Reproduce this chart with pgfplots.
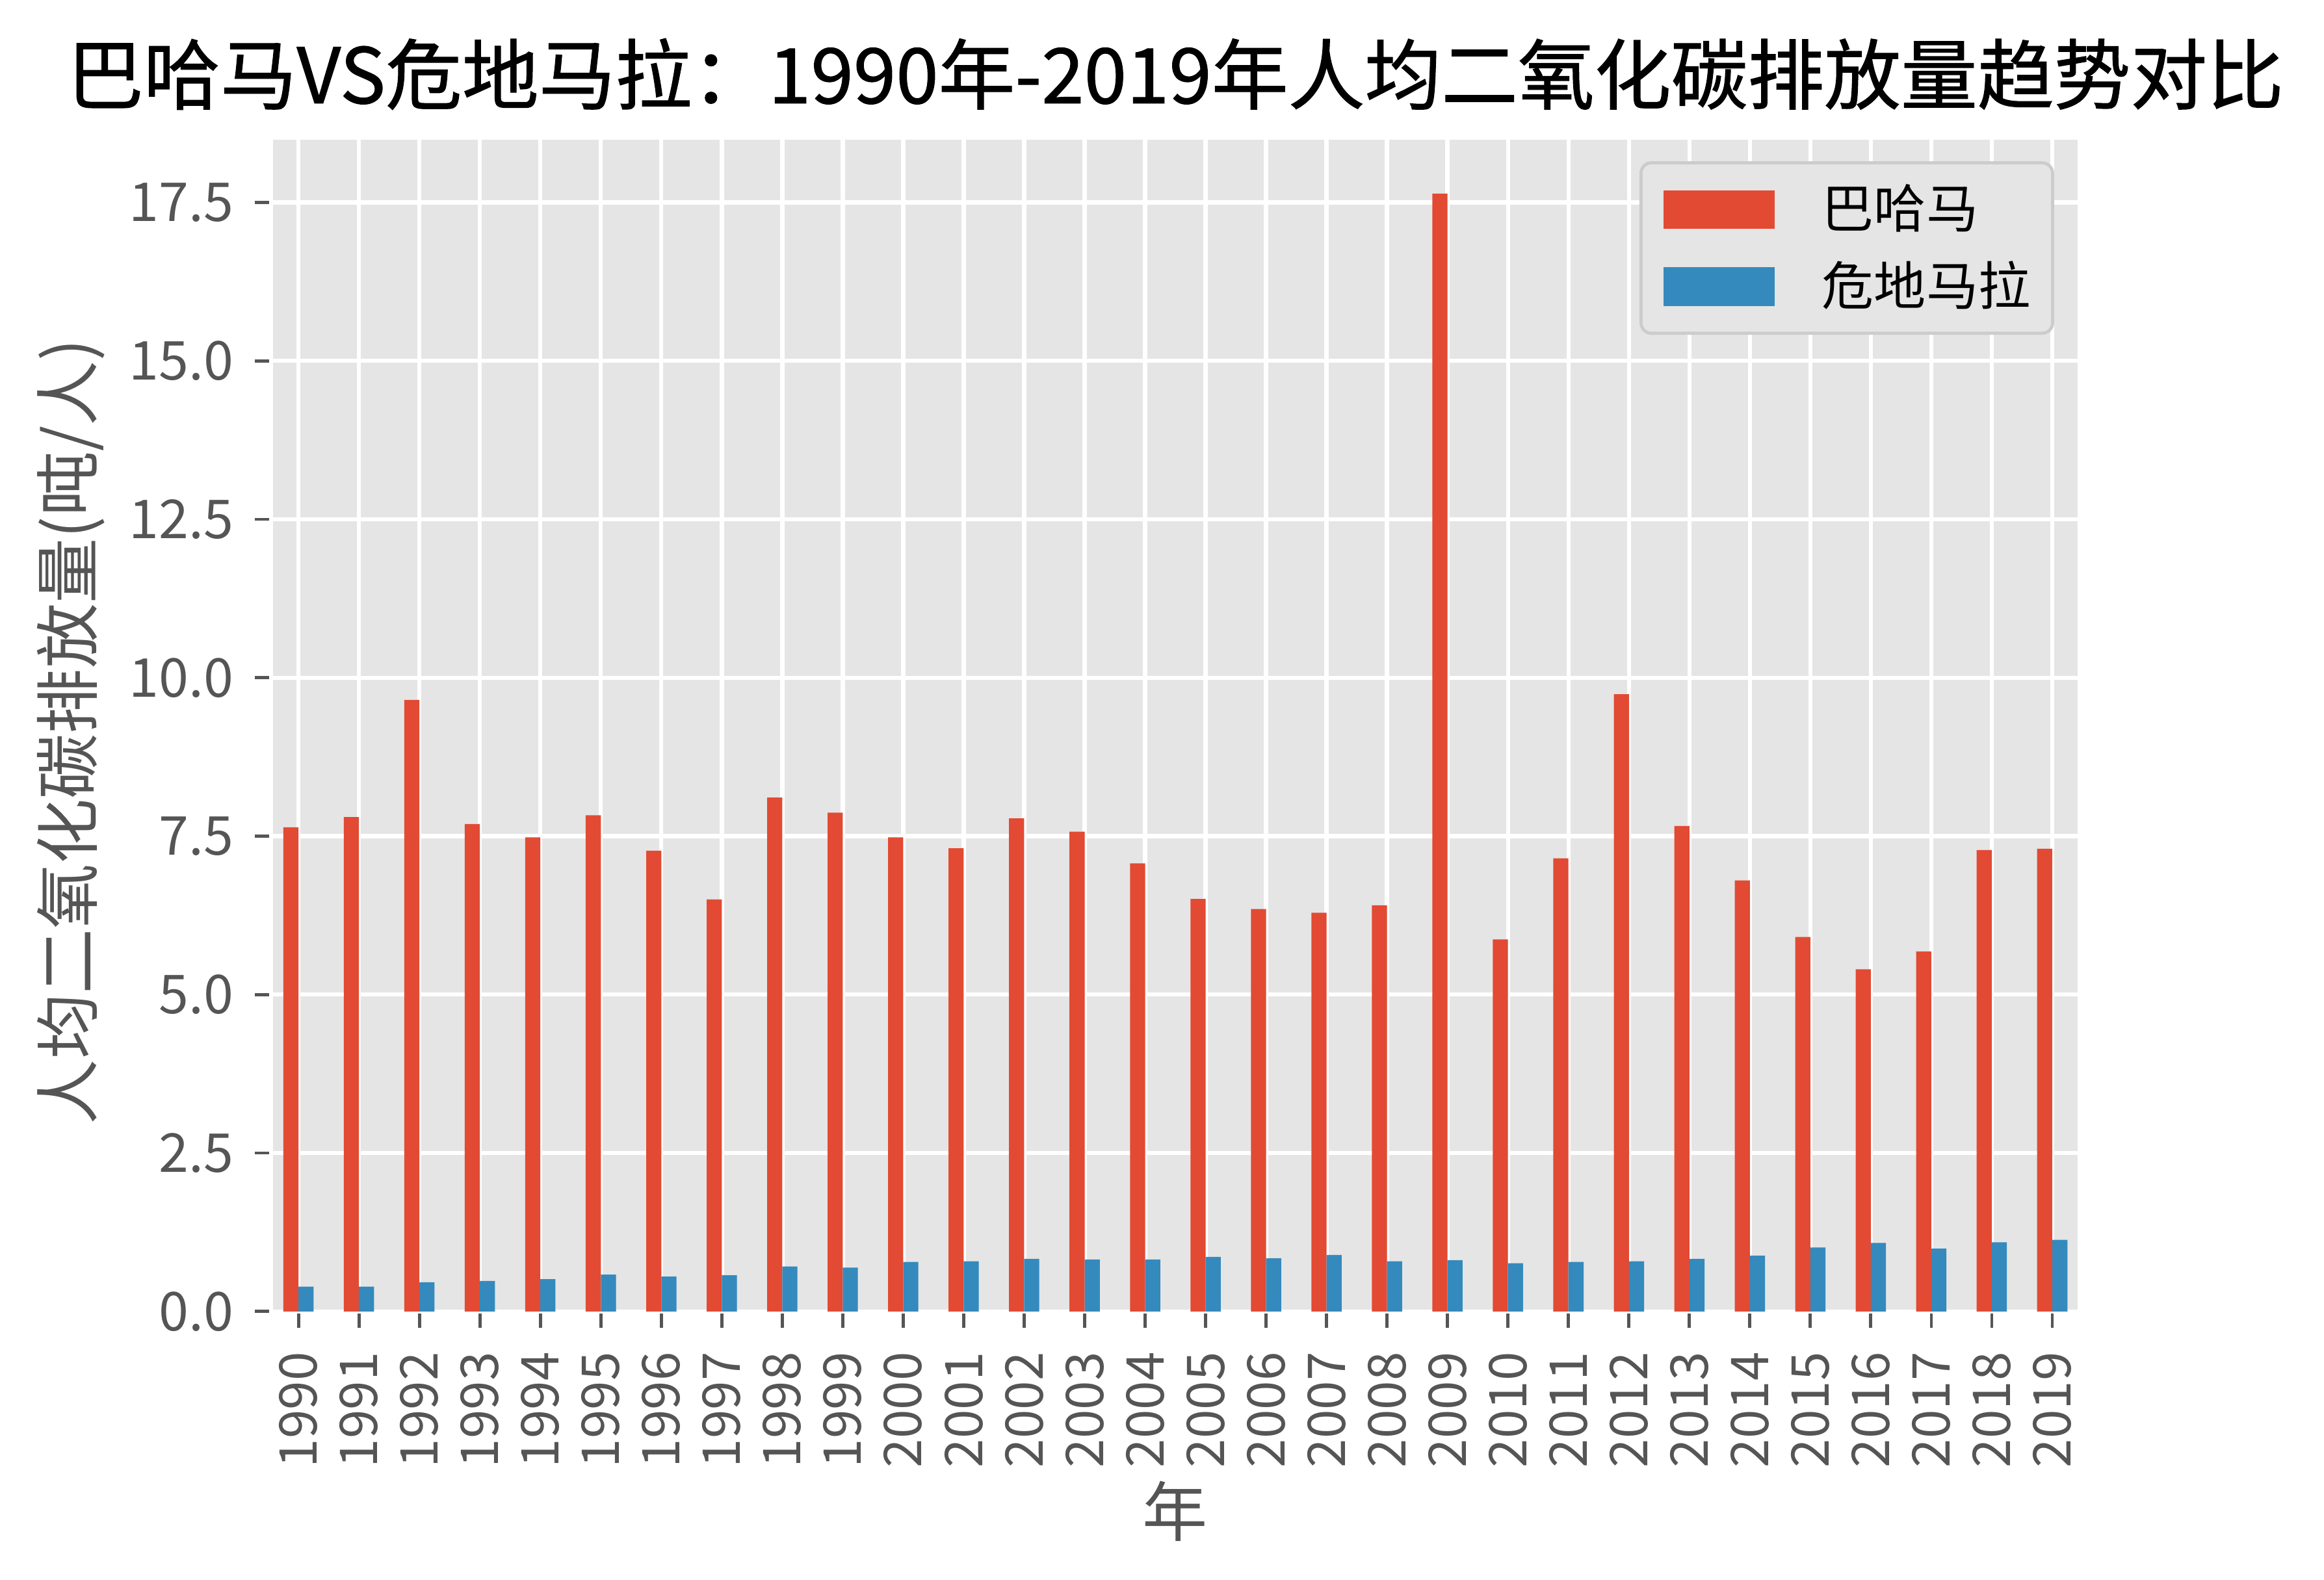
\documentclass[border=0pt]{standalone}
\usepackage{pgfplots}
\pgfplotsset{compat=1.18}
\usepackage{pgfplotstable}
\usepackage{fontspec}
\setmainfont{Noto Sans CJK SC}
\newfontfamily\titlefont[FakeBold=1]{Noto Sans CJK SC}
\definecolor{cred}{HTML}{E24A33}
\definecolor{cblue}{HTML}{348ABD}
\definecolor{bggray}{HTML}{E5E5E5}
\definecolor{tickgray}{HTML}{555555}
\definecolor{legedge}{HTML}{CCCCCC}

\pgfplotstableread{
idx year bah gua
0  1990 7.64 0.39
1  1991 7.80 0.39
2  1992 9.65 0.46
3  1993 7.69 0.48
4  1994 7.48 0.51
5  1995 7.83 0.58
6  1996 7.27 0.55
7  1997 6.50 0.57
8  1998 8.11 0.71
9  1999 7.87 0.69
10 2000 7.48 0.78
11 2001 7.31 0.79
12 2002 7.78 0.83
13 2003 7.57 0.82
14 2004 7.07 0.82
15 2005 6.51 0.86
16 2006 6.35 0.84
17 2007 6.29 0.89
18 2008 6.41 0.79
19 2009 17.64 0.81
20 2010 5.87 0.76
21 2011 7.15 0.78
22 2012 9.74 0.79
23 2013 7.66 0.83
24 2014 6.80 0.88
25 2015 5.91 1.01
26 2016 5.40 1.08
27 2017 5.68 0.99
28 2018 7.28 1.09
29 2019 7.30 1.13
}\datatable

\begin{document}
\begin{tikzpicture}
\begin{axis}[
  scale only axis,
  width=12.2cm, height=7.92cm,
  xmin=-0.45, xmax=29.45,
  ymin=0, ymax=18.52,
  axis background/.style={fill=bggray},
  axis line style={draw=white, line width=0.8pt},
  grid=major,
  major grid style={draw=white, line width=0.8pt},
  tick pos=left,
  tick align=outside,
  major tick length=0.11cm,
  tick style={draw=tickgray, line width=0.6pt},
  xtick={0,...,29},
  xticklabels={1990,1991,1992,1993,1994,1995,1996,1997,1998,1999,2000,2001,2002,2003,2004,2005,2006,2007,2008,2009,2010,2011,2012,2013,2014,2015,2016,2017,2018,2019},
  ytick={0,2.5,5,7.5,10,12.5,15,17.5},
  /pgf/number format/assume math mode=true,
  yticklabel style={/pgf/number format/fixed, /pgf/number format/fixed zerofill, /pgf/number format/precision=1, font=\fontsize{10.3}{12}\selectfont, text=tickgray, xshift=-0.02cm},
  xticklabel style={rotate=90, anchor=east, font=\fontsize{10}{12}\selectfont, text=tickgray, xshift=-0.04cm},
  xlabel={年},
  ylabel={人均二氧化碳排放量(吨/人)},
  xlabel style={at={(axis description cs:0.5,-0.1705)}, anchor=center, font=\fontsize{12.5}{14}\selectfont, text=tickgray},
  ylabel style={at={(axis description cs:-0.1107,0.494)}, anchor=center, rotate=0, font=\fontsize{12.5}{14}\selectfont, text=tickgray},
  every axis title shift=0pt,
  title={巴哈马VS危地马拉：1990年-2019年人均二氧化碳排放量趋势对比},
  title style={at={(axis description cs:0.5,1.0543)}, anchor=center, font=\titlefont\fontsize{14.7}{17}\selectfont, text=black},
  legend style={at={(axis description cs:0.986,0.980)}, anchor=north east,
    fill=bggray, draw=legedge, line width=0.6pt, rounded corners=2pt,
    font=\fontsize{10}{12}\selectfont, text=black,
    inner xsep=0.15cm, inner ysep=0.14cm,
    row sep=0.17cm, column sep=0.32cm,
    nodes={inner sep=0pt, text height=0.3cm, text depth=0.05cm}},
  legend cell align=left,
]
\addlegendimage{legend image code/.code={\fill[cred, sharp corners] (0cm,-0.12cm) rectangle (0.73cm,0.12cm);}}
\addlegendentry{巴哈马}
\addlegendimage{legend image code/.code={\fill[cblue, sharp corners] (0cm,-0.12cm) rectangle (0.73cm,0.12cm);}}
\addlegendentry{危地马拉}
\addplot[ybar, bar width=0.25, bar shift=-0.125, fill=cred, draw=none, forget plot] table[x=idx, y=bah] {\datatable};
\addplot[ybar, bar width=0.25, bar shift=0.125, fill=cblue, draw=none, forget plot] table[x=idx, y=gua] {\datatable};
\coordinate (ll) at (rel axis cs:0,0);
\coordinate (ur) at (rel axis cs:1,1);
\end{axis}
\pgfresetboundingbox
\path ([xshift=-1.83cm,yshift=-1.81cm]ll) rectangle ([xshift=1.65cm,yshift=0.93cm]ur);
\end{tikzpicture}
\end{document}
